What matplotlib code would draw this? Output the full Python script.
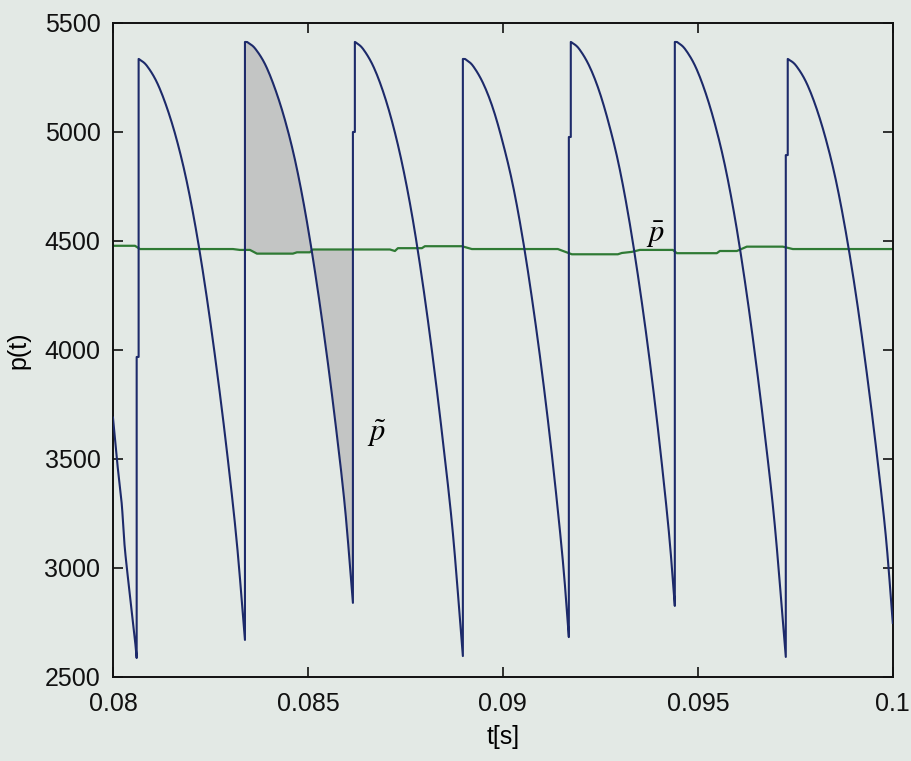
import numpy as np
import matplotlib
matplotlib.use("Agg")
import matplotlib.pyplot as plt

# blue trace p(t): short piece before the first rise
lead_t = [0.08, 0.080110, 0.080223, 0.080308, 0.080479, 0.080564]
lead_p = [3690, 3482, 3298, 3083, 2807, 2670]

# each cycle: trough just before the rise, shoulder on the rise, peak
rise_t = [0.080608, 0.083385, 0.086154, 0.088974, 0.091692, 0.094410, 0.097256]
trough_p = [2587, 2670, 2840, 2596, 2683, 2826, 2592]
shoulder_p = [3968, 5413, 5000, 5335, 4977, 5413, 4894]
peak_p = [5335, 5413, 5413, 5335, 5413, 5413, 5335]

decay_dt = [0.000077, 0.000256, 0.000513, 0.000769, 0.001026, 0.001282,
            0.001538, 0.001795, 0.002051, 0.002308, 0.002564]
decay_p1 = [5332, 5305, 5230, 5115, 4965, 4775, 4535, 4245, 3915, 3545, 3125]
decay_p2 = [5410, 5384, 5312, 5200, 5055, 4873, 4641, 4361, 4042, 3684, 3280]
decay_p3 = [5410, 5382, 5305, 5188, 5033, 4838, 4596, 4300, 3962, 3582, 3159]
decay_p4 = [5332, 5304, 5226, 5110, 4950, 4757, 4508, 4208, 3868, 3479, 3033]
decay_p5 = [5410, 5383, 5307, 5193, 5038, 4849, 4606, 4314, 3982, 3602, 3168]
decay_p6 = [5410, 5382, 5306, 5190, 5038, 4849, 4609, 4318, 3986, 3613, 3196]
decay_p7 = [5332, 5306, 5232, 5118, 4968, 4781, 4543, 4259, 3930, 3563, 3149]
end_t, end_p = 0.1, 2748

# green trace: mean pressure
green_t = [0.08, 0.080564, 0.080692, 0.083077, 0.083256, 0.083513, 0.083692,
           0.084615, 0.084718, 0.085051, 0.085128, 0.087103, 0.087231, 0.087308,
           0.087923, 0.088, 0.088949, 0.089205, 0.091410, 0.091769, 0.092949,
           0.093051, 0.093308, 0.093513, 0.094359, 0.094462, 0.095487, 0.095564,
           0.096, 0.096256, 0.097179, 0.097436, 0.1]
green_p = [4478, 4478, 4463, 4463, 4459, 4459, 4442, 4442, 4448, 4448, 4461,
           4461, 4454, 4467, 4467, 4476, 4476, 4463, 4463, 4439, 4439, 4445,
           4450, 4459, 4459, 4444, 4444, 4454, 4454, 4474, 4474, 4463, 4463]

xticks = [0.08, 0.085, 0.09, 0.095, 0.1]
xticklabels = ['0.08', '0.085', '0.09', '0.095', '0.1']
yticks = [2500, 3000, 3500, 4000, 4500, 5000, 5500]

decays = [decay_p1, decay_p2, decay_p3, decay_p4, decay_p5, decay_p6, decay_p7]
rise_w = 0.00005


def smooth(t, p, n=10):
    # catmull-rom through the read points, just for drawing
    t = np.asarray(t, float)
    p = np.asarray(p, float)
    tp = np.concatenate([[2 * t[0] - t[1]], t, [2 * t[-1] - t[-2]]])
    pp = np.concatenate([[2 * p[0] - p[1]], p, [2 * p[-1] - p[-2]]])
    out_t, out_p = [t[0]], [p[0]]
    s = np.linspace(0, 1, n + 1)[1:]
    for k in range(1, len(tp) - 2):
        for arr, out in ((tp, out_t), (pp, out_p)):
            p0, p1, p2, p3 = arr[k - 1], arr[k], arr[k + 1], arr[k + 2]
            out.extend(0.5 * (2 * p1 + (-p0 + p2) * s
                              + (2 * p0 - 5 * p1 + 4 * p2 - p3) * s ** 2
                              + (-p0 + 3 * p1 - 3 * p2 + p3) * s ** 3))
    return out_t, out_p


bt, bp = smooth(lead_t + [rise_t[0]], lead_p + [trough_p[0]])
blue_t, blue_p = list(bt), list(bp)
cyc2 = None
for i in range(len(rise_t)):
    r = rise_t[i]
    # rise: trough -> shoulder, tiny step right, then up to the peak
    blue_t += [r, r + rise_w]
    blue_p += [shoulder_p[i], shoulder_p[i]]
    nt = rise_t[i + 1] if i + 1 < len(rise_t) else end_t
    npv = trough_p[i + 1] if i + 1 < len(rise_t) else end_p
    st, sp = smooth([r + rise_w] + [r + d for d in decay_dt] + [nt],
                    [peak_p[i]] + decays[i] + [npv])
    blue_t += list(st)
    blue_p += list(sp)
    if i == 1:
        cyc2 = (np.array([r] + list(st)), np.array([peak_p[i]] + list(sp)))

bg = '#e3e9e5'
plt.rcParams['font.family'] = ['Liberation Sans', 'DejaVu Sans']
plt.rcParams['mathtext.fontset'] = 'stix'

fig = plt.figure(figsize=(9.11, 7.61), dpi=100, facecolor=bg)
ax = fig.add_axes([0.124, 0.1104, 0.856, 0.8594], facecolor=bg)

# shaded area of the second cycle between p(t) and mean
tt = np.linspace(cyc2[0][0], cyc2[0][-1], 800)
bi = np.interp(tt, cyc2[0], cyc2[1])
gi = np.interp(tt, green_t, green_p)
ax.fill_between(tt, bi, gi, color='#c3c5c4', lw=0, zorder=1)

ax.plot(green_t, green_p, color='#2f7a34', lw=1.6, zorder=2)
ax.plot(blue_t, blue_p, color='#1d2a6a', lw=1.5, zorder=3)

ax.text(0.0939, 4527, r'$\bar{p}$', fontsize=22, ha='center', va='center')
ax.text(0.08677, 3619, r'$\tilde{p}$', fontsize=22, ha='center', va='center')

ax.set_xlim(0.08, 0.1)
ax.set_ylim(2500, 5500)
ax.set_xticks(xticks)
ax.set_xticklabels(xticklabels)
ax.set_yticks(yticks)
ax.tick_params(direction='in', length=7, width=1.2, top=True, right=True,
               labelsize=18, colors='#111111')
ax.tick_params(axis='x', pad=11)
ax.tick_params(axis='y', pad=9)
for s in ax.spines.values():
    s.set_linewidth(1.4)
    s.set_color('#111111')

ax.set_xlabel('t[s]', fontsize=18, labelpad=6)
ax.set_ylabel('p(t)', fontsize=18, labelpad=10)

fig.savefig('out.png', dpi=100, facecolor=bg)
